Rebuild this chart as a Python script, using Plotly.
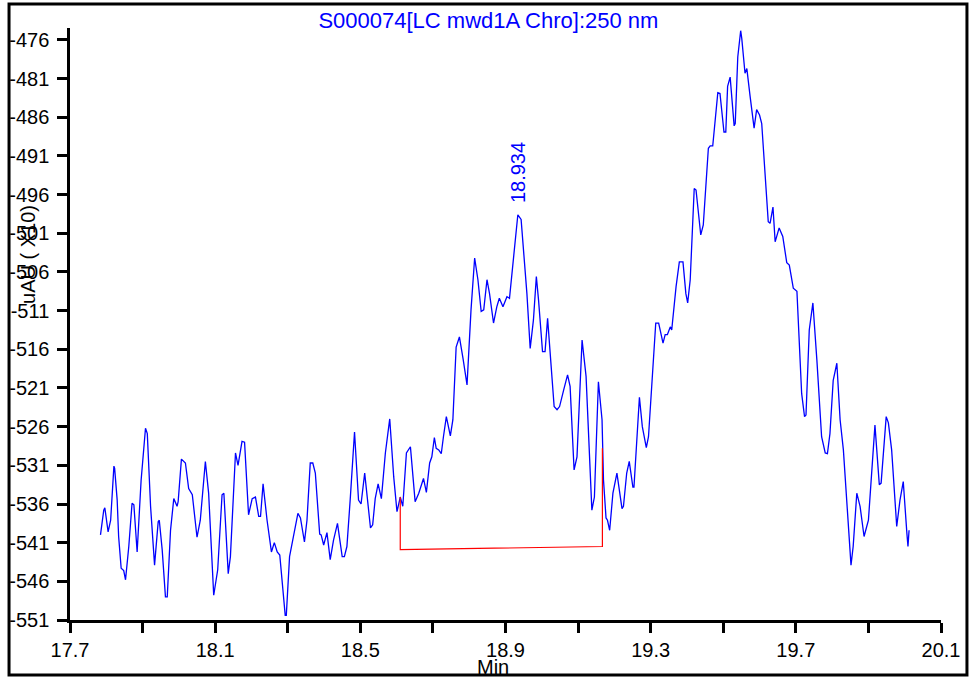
import plotly.graph_objects as go

# Retention time (min) and signal (uAU x10)
time_min = [
    17.784, 17.793, 17.796, 17.805, 17.812, 17.821, 17.823, 17.830, 17.834, 17.841,
    17.848, 17.853, 17.862, 17.871, 17.876, 17.885, 17.896, 17.908, 17.913, 17.922,
    17.933, 17.943, 17.946, 17.954, 17.963, 17.968, 17.977, 17.986, 17.995, 17.998,
    18.007, 18.018, 18.027, 18.037, 18.050, 18.059, 18.073, 18.082, 18.096, 18.107,
    18.119, 18.124, 18.136, 18.142, 18.156, 18.163, 18.174, 18.181, 18.192, 18.202,
    18.211, 18.220, 18.225, 18.232, 18.243, 18.255, 18.263, 18.271, 18.278, 18.293,
    18.296, 18.305, 18.314, 18.321, 18.328, 18.335, 18.346, 18.353, 18.362, 18.369,
    18.376, 18.388, 18.392, 18.399, 18.408, 18.417, 18.426, 18.437, 18.450, 18.456,
    18.463, 18.472, 18.482, 18.484, 18.495, 18.502, 18.512, 18.518, 18.528, 18.534,
    18.541, 18.549, 18.558, 18.569, 18.581, 18.592, 18.601, 18.610, 18.617, 18.627,
    18.638, 18.651, 18.661, 18.674, 18.682, 18.691, 18.697, 18.704, 18.709, 18.716,
    18.723, 18.729, 18.737, 18.748, 18.755, 18.764, 18.773, 18.783, 18.794, 18.805,
    18.815, 18.824, 18.833, 18.840, 18.849, 18.856, 18.867, 18.876, 18.883, 18.893,
    18.904, 18.911, 18.918, 18.926, 18.934, 18.943, 18.959, 18.968, 18.977, 18.985,
    18.991, 19.002, 19.009, 19.016, 19.023, 19.034, 19.042, 19.049, 19.060, 19.071,
    19.078, 19.089, 19.097, 19.111, 19.122, 19.138, 19.145, 19.156, 19.166, 19.170,
    19.177, 19.181, 19.187, 19.196, 19.207, 19.221, 19.225, 19.234, 19.241, 19.251,
    19.254, 19.262, 19.269, 19.277, 19.288, 19.294, 19.301, 19.314, 19.322, 19.334,
    19.340, 19.346, 19.354, 19.358, 19.370, 19.379, 19.389, 19.397, 19.402, 19.409,
    19.420, 19.425, 19.438, 19.445, 19.459, 19.464, 19.471, 19.485, 19.491, 19.502,
    19.507, 19.512, 19.519, 19.530, 19.533, 19.540, 19.548, 19.551, 19.560, 19.565,
    19.574, 19.585, 19.592, 19.600, 19.606, 19.615, 19.624, 19.629, 19.637, 19.643,
    19.654, 19.664, 19.675, 19.682, 19.693, 19.703, 19.716, 19.724, 19.728, 19.737,
    19.747, 19.758, 19.771, 19.781, 19.787, 19.794, 19.803, 19.813, 19.822, 19.831,
    19.840, 19.852, 19.858, 19.868, 19.877, 19.888, 19.900, 19.909, 19.918, 19.930,
    19.935, 19.949, 19.955, 19.964, 19.978, 19.987, 19.996, 20.006, 20.009, 20.012,
]
signal = [
    -540.0, -536.8, -536.5, -539.6, -538.1, -531.1, -531.4, -535.5, -540.2, -544.3,
    -544.6, -545.8, -541.5, -535.9, -536.1, -542.2, -532.9, -526.2, -526.9, -536.3,
    -543.9, -538.3, -538.1, -541.9, -548.0, -548.0, -539.4, -535.3, -536.3, -535.7,
    -530.2, -530.7, -534.0, -534.8, -540.3, -538.1, -530.5, -534.6, -547.8, -544.5,
    -534.8, -534.6, -545.0, -542.8, -529.4, -531.0, -527.9, -528.0, -537.4, -535.3,
    -535.1, -537.6, -537.6, -533.4, -538.1, -542.2, -541.0, -542.2, -542.6, -550.4,
    -550.4, -542.8, -540.6, -538.9, -537.2, -537.8, -540.9, -538.1, -530.7, -530.7,
    -532.0, -539.9, -540.0, -541.3, -539.7, -543.2, -540.7, -538.5, -542.8, -542.8,
    -541.5, -535.5, -526.7, -526.7, -535.5, -536.0, -532.0, -534.6, -539.1, -538.7,
    -535.3, -533.4, -535.3, -529.4, -525.0, -532.5, -537.0, -535.1, -536.3, -529.4,
    -528.6, -535.7, -534.6, -532.7, -534.5, -530.7, -529.9, -527.4, -528.8, -529.0,
    -529.5, -527.3, -524.7, -527.2, -525.1, -515.7, -514.4, -517.2, -520.6, -510.9,
    -504.2, -507.0, -511.1, -510.9, -507.0, -508.8, -512.6, -510.5, -509.4, -510.5,
    -509.2, -509.4, -506.0, -502.3, -498.6, -499.2, -508.8, -515.9, -512.2, -506.6,
    -509.6, -516.3, -516.3, -512.0, -516.1, -523.4, -523.8, -523.4, -521.3, -519.3,
    -520.8, -531.6, -529.9, -514.8, -519.5, -536.8, -535.1, -520.2, -525.1, -532.9,
    -537.8, -538.1, -539.4, -534.6, -532.0, -536.6, -536.3, -532.0, -530.5, -533.8,
    -533.8, -527.7, -522.2, -526.0, -528.7, -527.3, -522.3, -512.6, -512.6, -515.2,
    -514.1, -514.1, -513.1, -513.5, -507.9, -504.7, -504.7, -508.8, -510.0, -507.0,
    -495.2, -495.4, -501.2, -499.9, -490.0, -489.7, -489.7, -482.8, -482.9, -487.9,
    -487.9, -482.0, -480.8, -487.1, -486.8, -478.2, -474.8, -475.8, -480.3, -479.7,
    -483.3, -487.4, -485.0, -485.7, -486.8, -492.8, -499.5, -499.7, -497.6, -502.1,
    -500.3, -501.4, -504.8, -505.1, -508.1, -508.5, -521.7, -524.7, -524.5, -513.5,
    -510.0, -517.4, -527.3, -529.4, -529.5, -526.9, -520.0, -517.8, -525.1, -529.0,
    -535.5, -543.9, -541.5, -534.6, -536.3, -540.2, -538.1, -532.0, -525.8, -533.5,
    -533.3, -524.7, -525.5, -529.0, -538.9, -535.5, -533.1, -539.8, -541.5, -539.4,
]

# Integration baseline (drop lines + baseline) for the labelled peak
baseline_time = [18.610, 18.610, 19.167, 19.167]
baseline_signal = [-535.1, -541.9, -541.5, -528.8]

peak_time = 18.934
peak_signal = -498.6
peak_label = "18.934"

y_tick_vals = list(range(-551, -475, 5))
y_tick_text = [f"-{abs(v)}" for v in y_tick_vals]
x_tick_vals = [17.7, 17.9, 18.1, 18.3, 18.5, 18.7, 18.9, 19.1, 19.3, 19.5, 19.7, 19.9, 20.1]
x_tick_text = ["17.7", "", "18.1", "", "18.5", "", "18.9", "", "19.3", "", "19.7", "", "20.1"]

FONT = "Liberation Sans, Arial, sans-serif"
BLUE = "#0000ff"

fig = go.Figure()
fig.add_trace(go.Scatter(x=time_min, y=signal, mode="lines",
                         line=dict(color=BLUE, width=1.3), hoverinfo="skip"))
fig.add_trace(go.Scatter(x=baseline_time, y=baseline_signal, mode="lines",
                         line=dict(color="#ff0000", width=1.2), hoverinfo="skip"))

fig.add_annotation(x=peak_time, y=peak_signal, text=peak_label, textangle=-90,
                   showarrow=False, yanchor="bottom", xanchor="center", yshift=10,
                   font=dict(family=FONT, size=20, color=BLUE))

# y-axis title (overlapping the tick labels as in the original)
fig.add_annotation(xref="paper", yref="paper", x=-0.048, y=0.617, text="uAU ( X10)",
                   textangle=-90, showarrow=False, xanchor="center", yanchor="middle",
                   font=dict(family=FONT, size=20, color="black"))
# x-axis title
fig.add_annotation(xref="paper", yref="paper", x=0.486, y=-0.058, text="Min",
                   showarrow=False, xanchor="center", yanchor="top",
                   font=dict(family=FONT, size=20, color="black"))

# outer frame
fig.add_shape(type="rect", xref="paper", yref="paper",
              x0=-0.070, x1=1.0298, y0=-0.0929, y1=1.0405,
              line=dict(color="black", width=3), layer="above")

fig.update_layout(
    width=971, height=677,
    margin=dict(l=70, r=30, t=28, b=57),
    paper_bgcolor="white", plot_bgcolor="white",
    showlegend=False,
    title=dict(text="S000074[LC mwd1A Chro]:250 nm", x=0.503, xanchor="center",
               y=0.970, yanchor="middle", yref="container",
               font=dict(family=FONT, size=22, color=BLUE)),
    font=dict(family=FONT, size=20, color="black"),
)
fig.update_xaxes(range=[17.7, 20.1], tickmode="array", tickvals=x_tick_vals,
                 ticktext=x_tick_text, ticks="outside", ticklen=10, tickwidth=2.5,
                 tickcolor="black", showline=True, linecolor="black", linewidth=2.5,
                 showgrid=False, zeroline=False, automargin=False,
                 tickfont=dict(family=FONT, size=20))
fig.update_yaxes(range=[-551, -474.45], tickmode="array", tickvals=y_tick_vals,
                 ticktext=y_tick_text, ticks="outside", ticklen=10, tickwidth=2.5,
                 tickcolor="black", showline=True, linecolor="black", linewidth=2.5,
                 showgrid=False, zeroline=False, ticklabelstandoff=4, automargin=False,
                 tickfont=dict(family=FONT, size=20))

fig.write_html("out.html", config={"displayModeBar": False},
               post_script="document.body.style.margin='0';document.body.style.overflow='hidden';")
